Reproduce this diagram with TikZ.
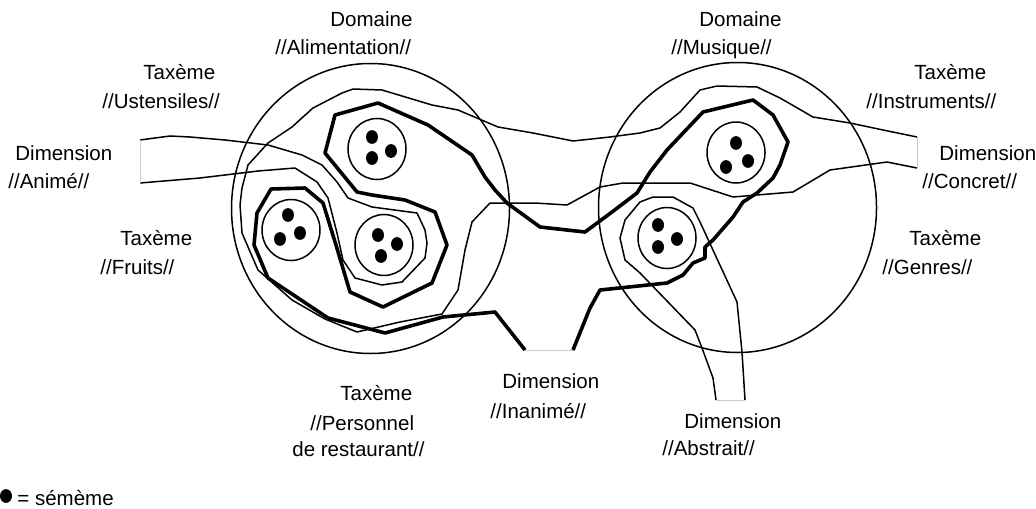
\documentclass[tikz,border=0pt]{standalone}
\usepackage{fontspec}
\setmainfont{Liberation Sans}
\usetikzlibrary{shapes.geometric}
\newcommand{\lblfont}{\fontsize{10.25}{12}\selectfont}
\tikzset{
  domaine/.style={ellipse, draw=black, line width=0.75pt, minimum width=139pt,
    minimum height=145pt, inner sep=0pt},
  classe/.style={ellipse, draw=black, line width=0.75pt, minimum width=29pt,
    minimum height=30.5pt, inner sep=0pt},
  seme/.style={ellipse, fill=black, minimum width=6pt, minimum height=6.9pt, inner sep=0pt},
  lbl/.style={anchor=base west, inner sep=0pt, font=\lblfont},
  fin/.style={line width=0.75pt, line join=round},
  epais/.style={line width=1.8pt, line join=round},
  bord/.style={draw=gray!40, line width=0.5pt}
}
\begin{document}
\begin{tikzpicture}[x=0.5pt, y=-0.5pt]
\useasboundingbox (0,0) rectangle (1036,508);
\node[domaine] (alim) at (370.5,208.5) {};
\node[domaine] (musique) at (737.5,207.5) {};
\node[classe] (ustens) at (377,149) {};
\node[classe] (fruitsg) at (291,230) {};
\node[classe] (fruitsd) at (384,245) {};
\node[classe] (instr) at (736,152.5) {};
\node[classe] (genres) at (667,238) {};
\node[seme] (u1) at (372,137) {};
\node[seme] (u2) at (391,151) {};
\node[seme] (u3) at (372,158) {};
\node[seme] (fg1) at (288,215) {};
\node[seme] (fg2) at (300,233) {};
\node[seme] (fg3) at (280,239) {};
\node[seme] (fd1) at (378,235) {};
\node[seme] (fd2) at (397,244) {};
\node[seme] (fd3) at (381,256) {};
\node[seme] (i1) at (736,143) {};
\node[seme] (i2) at (748,161) {};
\node[seme] (i3) at (726,167) {};
\node[seme] (g1) at (658,225) {};
\node[seme] (g2) at (677,239) {};
\node[seme] (g3) at (658,247) {};
\coordinate (concH) at (917,137);
\coordinate (concB) at (917,168);
\coordinate (animH) at (140,140);
\coordinate (animB) at (140,183);
\coordinate (inanG) at (525,350);
\coordinate (inanD) at (573,350);
\coordinate (abstG) at (716,400);
\coordinate (abstD) at (745,400);
\draw[fin] (concH) -- (883,130) -- (850,123) -- (813,117) -- (780,98) -- (757,87) -- (717,86)
  -- (700,90) -- (680,112) -- (660,128) -- (640,133) -- (610,137) -- (573,141) -- (533,133)
  -- (498,127) -- (458,110) -- (432,105) -- (392,93) -- (382,90) -- (353,89) -- (342,93)
  -- (313,108) -- (303,117) -- (292,127) -- (268,143) -- (248,165) -- (242,188) -- (240,205)
  -- (242,233) -- (258,270) -- (292,300) -- (325,319) -- (357,332) -- (400,322) -- (442,314)
  -- (458,290) -- (465,250) -- (472,222) -- (490,203) -- (535,203) -- (567,205) -- (600,187)
  -- (623,183) -- (690,183) -- (733,197) -- (793,192) -- (830,170) -- (887,162) -- (concB);
\draw[fin] (animH) -- (170,136) -- (190,137) -- (225,140) -- (268,145) -- (302,155) -- (322,165)
  -- (337,182) -- (348,198) -- (372,207) -- (417,213) -- (425,230) -- (427,243) -- (425,258)
  -- (402,282) -- (382,285) -- (355,278) -- (343,260) -- (337,233) -- (328,198) -- (317,182)
  -- (295,168) -- (258,171) -- (225,175) -- (200,178) -- (animB);
\draw[epais] (inanG) -- (495,312) -- (443,317) -- (385,333) -- (328,318) -- (268,278) -- (254,245)
  -- (257,213) -- (271,189) -- (305,188) -- (323,203) -- (336,245) -- (350,292) -- (383,307)
  -- (432,283) -- (447,245) -- (435,212) -- (405,200) -- (372,195) -- (357,192) -- (325,153)
  -- (335,115) -- (378,103) -- (428,125) -- (472,155) -- (485,177) -- (495,190) -- (507,203)
  -- (540,227) -- (585,232) -- (612,212) -- (637,193) -- (650,172) -- (667,150) -- (703,112)
  -- (753,100) -- (773,115) -- (788,142) -- (780,165) -- (773,178) -- (757,193) -- (743,202)
  -- (733,217) -- (713,240) -- (705,247) -- (705,258) -- (693,263) -- (683,275) -- (667,283)
  -- (600,290) -- (590,308) -- (inanD);
\draw[fin] (abstG) -- (713,378) -- (702,348) -- (695,330) -- (640,273) -- (625,260) -- (620,238)
  -- (625,220) -- (640,202) -- (653,197) -- (673,197) -- (693,208) -- (700,222) -- (737,302)
  -- (742,352) -- (abstD);
\draw[bord] (concH) -- (concB);
\draw[bord] (animH) -- (animB);
\draw[bord] (inanG) -- (inanD);
\draw[bord] (abstG) -- (abstD);
\node[lbl] (domA1) at (330,27) {Domaine};
\node[lbl] (domA2) at (275,55) {//Alimentation//};
\node[lbl] (taxU1) at (143,80) {Taxème};
\node[lbl] (taxU2) at (102,108) {//Ustensiles//};
\node[lbl] (dimAn1) at (15,160) {Dimension};
\node[lbl] (dimAn2) at (8,188) {//Animé//};
\node[lbl] (taxF1) at (120,245) {Taxème};
\node[lbl] (taxF2) at (100,274) {//Fruits//};
\node[lbl] (domM1) at (699,27) {Domaine};
\node[lbl] (domM2) at (671,55) {//Musique//};
\node[lbl] (taxI1) at (914,80) {Taxème};
\node[lbl] (taxI2) at (866,108) {//Instruments//};
\node[lbl] (dimC1) at (939,160) {Dimension};
\node[lbl] (dimC2) at (922,188) {//Concret//};
\node[lbl] (taxG1) at (909,245) {Taxème};
\node[lbl] (taxG2) at (882,274) {//Genres//};
\node[lbl] (taxP1) at (340,400) {Taxème};
\node[lbl] (taxP2) at (310,430) {//Personnel};
\node[lbl] (taxP3) at (292,456) {de restaurant//};
\node[lbl] (dimI1) at (502,388) {Dimension};
\node[lbl] (dimI2) at (490,418) {//Inanimé//};
\node[lbl] (dimAb1) at (684,428) {Dimension};
\node[lbl] (dimAb2) at (662,455) {//Abstrait//};
\node[seme] (legpt) at (6,496) {};
\node[lbl] (legtxt) at (17,505) {= sémème};
\end{tikzpicture}
\end{document}
